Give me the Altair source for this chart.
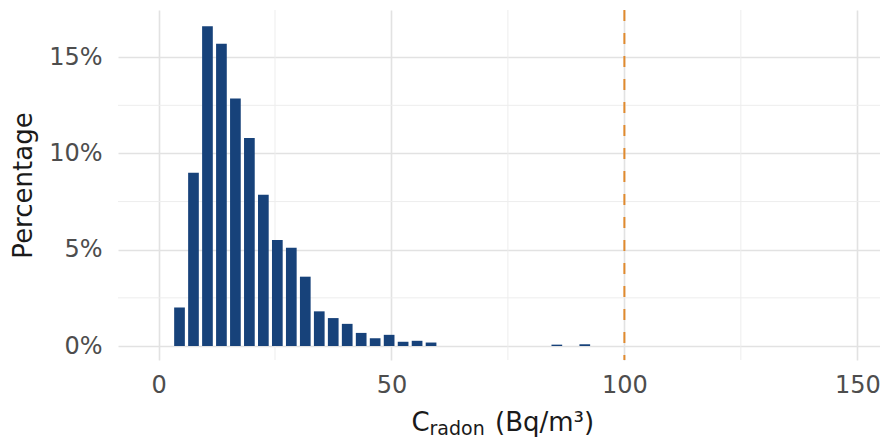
import altair as alt
import pandas as pd

# ---- data ----
bin_centre = [4.5, 7.5, 10.5, 13.5, 16.5, 19.5, 22.5, 25.5, 28.5, 31.5, 34.5,
              37.5, 40.5, 43.5, 46.5, 49.5, 52.5, 55.5, 58.5, 85.5, 91.5]
percentage = [2.0, 9.0, 16.6, 15.7, 12.85, 10.8, 7.85, 5.5, 5.1, 3.6, 1.8,
              1.45, 1.15, 0.68, 0.4, 0.58, 0.22, 0.27, 0.18, 0.07, 0.09]
threshold = [100]
x_ticks = [0, 50, 100, 150]
y_ticks = [0, 5, 10, 15]
x_minor = [25, 75, 125]
y_minor = [2.5, 7.5, 12.5]
title_parts = ["C", "radon", "(Bq/m³)"]

FONT = "DejaVu Sans"
W, H = 762, 350

hist = pd.DataFrame({"x": bin_centre, "pct": percentage})

xscale = alt.Scale(domain=[-7.63, 153.8], nice=False, zero=False)
yscale = alt.Scale(domain=[-0.727, 17.45], nice=False, zero=False)

xaxis = alt.Axis(values=x_ticks, title=None, grid=True, ticks=False, tickSize=0,
                 domain=False, labelPadding=13, labelFontSize=24,
                 labelColor="#4D4D4D", labelFont=FONT,
                 gridColor="#E2E2E2", gridWidth=1.6)
yaxis = alt.Axis(values=y_ticks, title="Percentage", grid=True, ticks=False,
                 tickSize=0, domain=False, labelPadding=16, labelFontSize=24,
                 labelColor="#4D4D4D", labelFont=FONT,
                 labelExpr="datum.value + '%'",
                 titleFont=FONT, titleFontSize=26, titleFontWeight="normal",
                 titleColor="#1A1A1A", titlePadding=12,
                 gridColor="#E2E2E2", gridWidth=1.6)

bars = alt.Chart(hist).mark_bar(color="#17427A", width=10.7).encode(
    x=alt.X("x:Q", scale=xscale, axis=xaxis),
    y=alt.Y("pct:Q", scale=yscale, axis=yaxis),
    y2=alt.datum(0),
)

minor_x = alt.Chart(pd.DataFrame({"v": x_minor})).mark_rule(
    color="#EDEDED", strokeWidth=1).encode(x=alt.X("v:Q", scale=xscale))
minor_y = alt.Chart(pd.DataFrame({"v": y_minor})).mark_rule(
    color="#EDEDED", strokeWidth=1).encode(y=alt.Y("v:Q", scale=yscale))

rule = alt.Chart(pd.DataFrame({"v": threshold})).mark_rule(
    color="#E08A2E", strokeWidth=2, strokeDash=[11, 12]).encode(
    x=alt.X("v:Q", scale=xscale))


def title_text(txt, px, py, size):
    return alt.Chart(pd.DataFrame({"t": [txt]})).mark_text(
        align="left", baseline="alphabetic", font=FONT, fontSize=size,
        color="#1A1A1A").encode(
        text="t:N", x=alt.value(px), y=alt.value(py))


t1 = title_text(title_parts[0], 293.5, 421, 26)
t2 = title_text(title_parts[1], 311.5, 425, 19)
t3 = title_text(title_parts[2], 377, 421, 26)

chart = alt.layer(minor_x, minor_y, bars, rule, t1, t2, t3).properties(
    width=W, height=H,
    autosize=alt.AutoSizeParams(type="none"),
    padding={"left": 110, "top": 2, "right": 0, "bottom": 81},
).configure_view(stroke=None)

chart.save("out.html", embed_options={"renderer": "svg", "actions": False})
